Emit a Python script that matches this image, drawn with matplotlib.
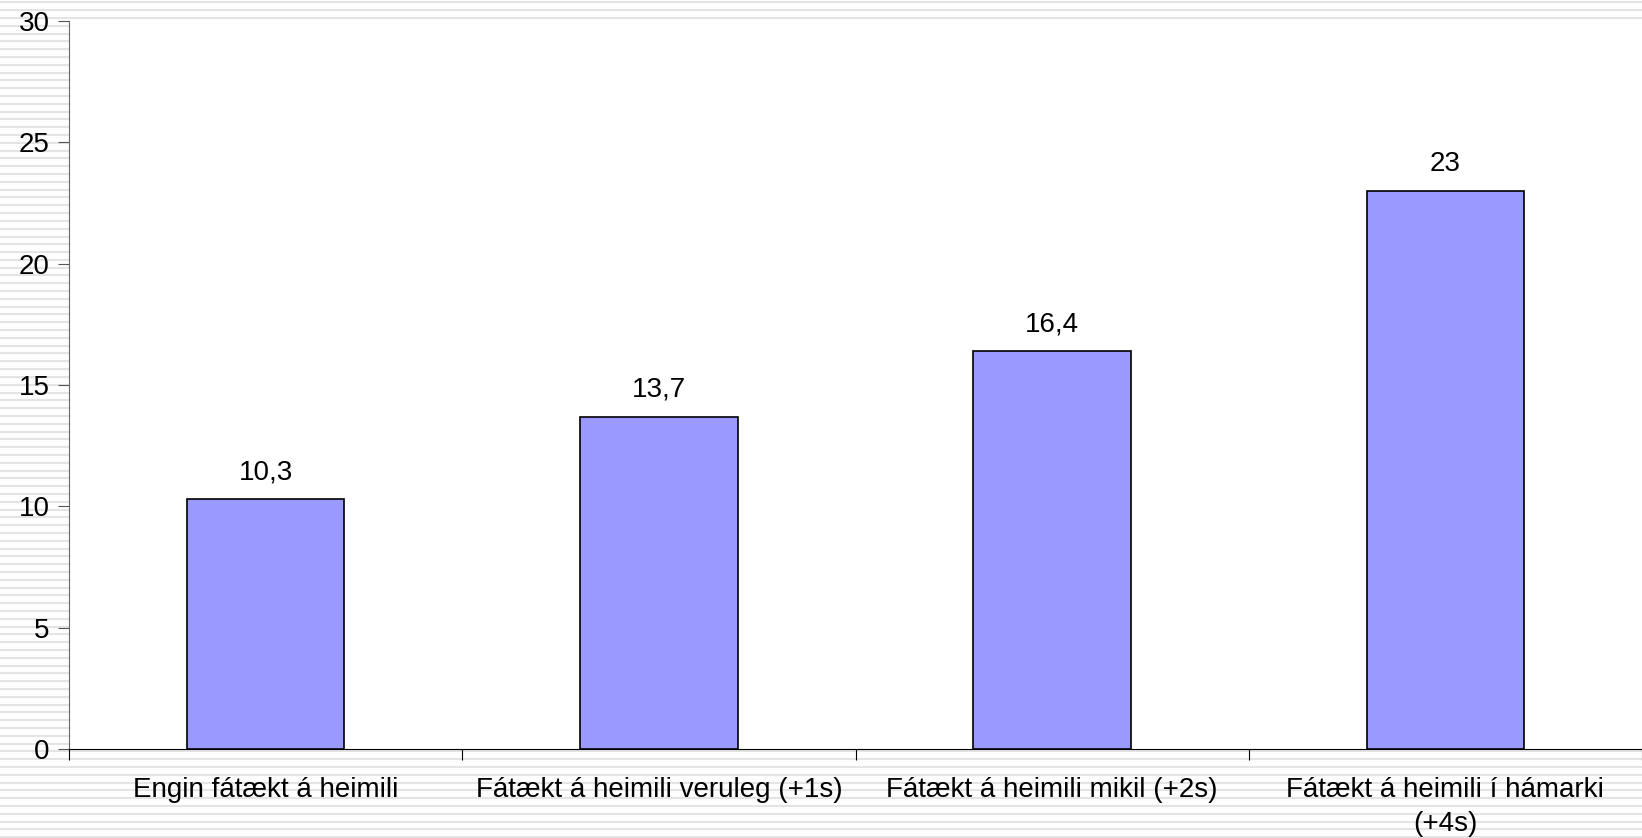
import matplotlib
matplotlib.use("Agg")
import matplotlib.pyplot as plt
from matplotlib.lines import Line2D
import numpy as np

plt.rcParams['font.family'] = ['Liberation Sans', 'DejaVu Sans']

categories = ['Engin fátækt á heimili',
              'Fátækt á heimili veruleg (+1s)',
              'Fátækt á heimili mikil (+2s)',
              'Fátækt á heimili í hámarki\n(+4s)']
values = [10.3, 13.7, 16.4, 23]
value_labels = ['10,3', '13,7', '16,4', '23']
yticks = [0, 5, 10, 15, 20, 25, 30]

W, H = 1642, 838
fig = plt.figure(figsize=(W / 100, H / 100), dpi=100)
fig.patch.set_facecolor('white')

# striped background
for ypx in np.arange(2.5, H, 7.8):
    fig.add_artist(Line2D([0, 1], [1 - ypx / H, 1 - ypx / H], transform=fig.transFigure,
                          color='#e4e4e4', lw=1.5, zorder=0))

left, right, top, bottom = 69, W, 21, 749
ax = fig.add_axes([left / W, 1 - bottom / H, (right - left) / W, (bottom - top) / H])
ax.set_facecolor('white')
ax.set_zorder(1)

fs = 20
x = np.arange(len(categories))
ax.bar(x, values, width=0.4, color='#9999ff', edgecolor='black', linewidth=1.2)
for xi, v, lab in zip(x, values, value_labels):
    ax.annotate(lab, (xi, v), xytext=(0, 10), textcoords='offset points',
                ha='center', va='bottom', fontsize=fs)

ax.set_xlim(-0.5, len(categories) - 0.5)
ax.set_ylim(0, 30)
ax.set_yticks(yticks)
ax.set_yticklabels([str(t) for t in yticks], fontsize=fs)
ax.set_xticks(np.arange(len(categories) + 1) - 0.5)
ax.set_xticklabels([])
ax.set_xticks(x, minor=True)
ax.set_xticklabels(categories, minor=True, fontsize=fs, linespacing=1.4)
ax.tick_params(axis='x', which='minor', length=0, pad=20)
ax.tick_params(axis='x', which='major', length=8, direction='out', color='black')
ax.tick_params(axis='y', length=8, direction='out', color='#555555', pad=6)

ax.spines['top'].set_visible(False)
ax.spines['right'].set_visible(False)
ax.spines['left'].set_color('#666666')
ax.spines['bottom'].set_color('black')

fig.savefig('out.png', dpi=100)
